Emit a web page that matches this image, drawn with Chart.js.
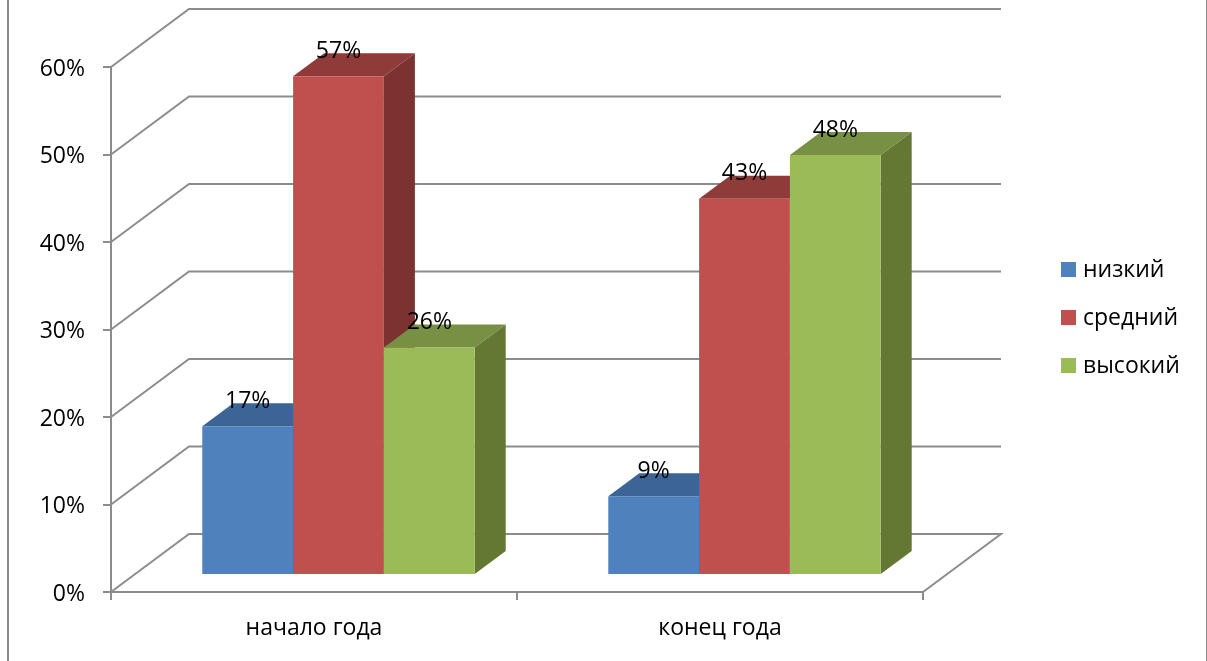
<!DOCTYPE html>
<html lang="ru">
<head>
<meta charset="utf-8">
<title>Уровень: начало и конец года</title>
<script src="https://cdn.jsdelivr.net/npm/chart.js@4/dist/chart.umd.js"></script>
<style>
  html, body { margin: 0; padding: 0; background: #fff; overflow: hidden; }
  #frame { position: absolute; left: 7px; top: 0; width: 1197px; height: 661px; border-left: 2px solid #8a8a8a; border-right: 2px solid #8a8a8a; }
  #wrap { position: absolute; left: 0; top: 0; width: 1207px; height: 661px; }
</style>
</head>
<body>
<div id="frame"></div>
<div id="wrap"><canvas id="chart"></canvas></div>
<script>
// --- Data ---
const categories = ['начало года', 'конец года'];
const nizkiy = [17, 9];
const sredniy = [57, 43];
const vysokiy = [26, 48];
const seriesNames = ['низкий', 'средний', 'высокий'];

// --- Style ---
const FONT = { family: '"Open Sans", sans-serif', size: 23 };
const GRID = '#8c8c8c';
const FACE = ['#4f81bd', '#c0504d', '#9bbb59'];
const TOP_FACE = ['#3c6494', '#8e3b3a', '#779043'];
const SIDE_FACE = ['#375d8c', '#7c3231', '#647733'];

const WALL = { dx: 78, dy: -58 };      // back wall offset from the axes
const BAR_SHIFT = { x: 24.5, y: -17 }; // bars stand inside the floor
const DEPTH = { dx: 31, dy: -23 };     // depth of a bar

const polygon = (ctx, color, pts) => {
  ctx.fillStyle = color;
  ctx.beginPath();
  pts.forEach(([x, y], i) => (i ? ctx.lineTo(x, y) : ctx.moveTo(x, y)));
  ctx.closePath();
  ctx.fill();
};

// Back wall, side wall and floor, plus the percent labels of the y axis
const wallPlugin = {
  id: 'wall',
  beforeDatasetsDraw(chart) {
    const { ctx, chartArea: { left, right }, scales: { y } } = chart;
    ctx.save();
    ctx.strokeStyle = GRID;
    ctx.lineWidth = 2;
    ctx.font = `${FONT.size}px ${FONT.family}`;
    ctx.fillStyle = '#000';
    ctx.textAlign = 'right';
    ctx.textBaseline = 'middle';
    y.ticks.forEach(tick => {
      const py = y.getPixelForValue(tick.value);
      ctx.beginPath();
      ctx.moveTo(left, py);
      ctx.lineTo(left + WALL.dx, py + WALL.dy);
      ctx.lineTo(right + WALL.dx, py + WALL.dy);
      if (tick.value === 0) ctx.lineTo(right, py);
      ctx.stroke();
      ctx.fillText(tick.label, left - 26, py + 2);
    });
    ctx.restore();
  }
};

// Chart.js paints datasets last to first, the 3D boxes need first to last
const box3dPlugin = {
  id: 'box3d',
  beforeDatasetDraw() {
    return false;
  },
  afterDatasetsDraw(chart) {
    const { ctx } = chart;
    ctx.save();
    ctx.translate(BAR_SHIFT.x, BAR_SHIFT.y);
    chart.data.datasets.forEach((ds, i) => {
      const meta = chart.getDatasetMeta(i);
      meta.data.forEach(bar => {
        const l = bar.x - bar.width / 2;
        const r = bar.x + bar.width / 2;
        polygon(ctx, SIDE_FACE[i], [
          [r, bar.y], [r + DEPTH.dx, bar.y + DEPTH.dy],
          [r + DEPTH.dx, bar.base + DEPTH.dy], [r, bar.base]
        ]);
        polygon(ctx, TOP_FACE[i], [
          [l, bar.y], [l + DEPTH.dx, bar.y + DEPTH.dy],
          [r + DEPTH.dx, bar.y + DEPTH.dy], [r, bar.y]
        ]);
      });
      meta.controller.draw();
    });
    ctx.restore();

    // Value labels and legend go on top of everything
    ctx.save();
    ctx.font = `${FONT.size}px ${FONT.family}`;
    ctx.fillStyle = '#000';
    ctx.textBaseline = 'middle';
    ctx.textAlign = 'center';
    chart.data.datasets.forEach((ds, i) => {
      chart.getDatasetMeta(i).data.forEach((bar, j) => {
        ctx.fillText(ds.data[j] + '%', bar.x + BAR_SHIFT.x, bar.y - 42);
      });
    });
    ctx.textAlign = 'left';
    chart.data.datasets.forEach((ds, i) => {
      const top = 262 + i * 48;
      ctx.fillStyle = ds.backgroundColor;
      ctx.fillRect(1061, top, 15, 15);
      ctx.fillStyle = '#000';
      ctx.fillText(ds.label, 1083, top + 8);
    });
    ctx.restore();
  }
};

new Chart(document.getElementById('chart'), {
  type: 'bar',
  data: {
    labels: categories,
    datasets: [nizkiy, sredniy, vysokiy].map((data, i) => ({
      label: seriesNames[i],
      data,
      backgroundColor: FACE[i],
      categoryPercentage: 0.671,
      barPercentage: 1
    }))
  },
  plugins: [wallPlugin, box3dPlugin],
  options: {
    responsive: true,
    maintainAspectRatio: false,
    animation: false,
    layout: { padding: { top: 67, right: 284 } },
    plugins: {
      legend: { display: false },
      tooltip: { enabled: false }
    },
    scales: {
      x: {
        afterFit: s => { s.height = 69; },
        border: { color: GRID, width: 2 },
        grid: { color: GRID, lineWidth: 2, tickLength: 8, drawOnChartArea: false },
        ticks: { color: '#000', font: FONT, padding: 15, maxRotation: 0 }
      },
      y: {
        min: 0,
        max: 60,
        afterFit: s => { s.width = 111; },
        border: { color: GRID, width: 2 },
        grid: { color: GRID, lineWidth: 2, tickLength: 8, drawOnChartArea: false },
        ticks: { display: false, stepSize: 10, callback: v => v + '%' }
      }
    }
  }
});
</script>
</body>
</html>
